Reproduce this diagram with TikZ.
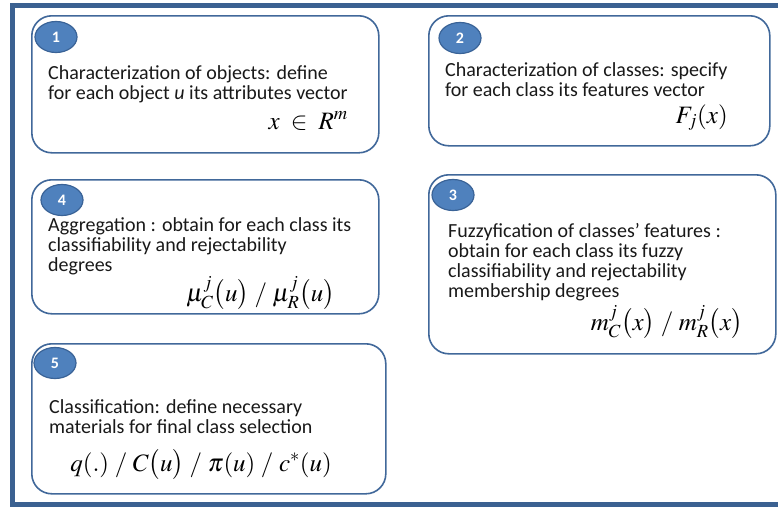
\documentclass[tikz,border=0pt]{standalone}
\usepackage{mathptmx}
\usepackage{fontspec}
\setmainfont{Carlito}
\usepackage{xcolor}
\usepackage{tikz}
\usetikzlibrary{positioning,calc,shapes.geometric}
\definecolor{fcframe}{HTML}{3B6191}
\definecolor{fcedge}{HTML}{41689A}
\definecolor{fcbadge}{HTML}{4F81BD}
\definecolor{fcbadgeedge}{HTML}{3A6397}
\tikzset{
  stepbox/.style={draw=fcedge, line width=1.6pt, rounded corners=20pt, fill=white,
    anchor=north west, inner sep=0pt},
  badge/.style={ellipse, draw=fcbadgeedge, line width=1.2pt, fill=fcbadge,
    minimum width=42pt, minimum height=31pt, inner sep=0pt, text=white,
    font=\fontsize{16}{18}\selectfont\bfseries},
  desc/.style={anchor=base west, align=left, inner sep=0pt, text=black!90,
    font=\fontsize{20}{20}\selectfont},
  formula/.style={anchor=base east, inner sep=0pt, font=\fontsize{25}{28}\selectfont}
}
\begin{document}
\begin{tikzpicture}[x=1pt,y=-1pt]
  \useasboundingbox (0,0) rectangle (778,506);
  % outer frame (open on the right)
  \draw[fcframe, line width=5pt] (778,5.5) -- (12,5.5) -- (12,504) -- (778,504);
  % the five steps
  \node[stepbox, minimum width=347pt, minimum height=137pt] (s1) at (31,15) {};
  \node[stepbox, minimum width=341pt, minimum height=130pt] (s2) at (428,15) {};
  \node[stepbox, minimum width=347pt, minimum height=134pt] (s4) at (31,179) {};
  \node[stepbox, minimum width=347pt, minimum height=179pt] (s3) at (428,174) {};
  \node[stepbox, minimum width=354pt, minimum height=150pt] (s5) at (31,343) {};
  \node[badge] (n1) at (56,37) {1};
  \node[badge] (n2) at (460,38) {2};
  \node[badge] (n4) at (62,200) {4};
  \node[badge] (n3) at (453,195) {3};
  \node[badge] (n5) at (55,363) {5};
  % texts (anchored at the baseline of the last line)
  \node[desc] (t1) at (48,99) {Characterization of objects: define\\for each object \emph{u} its attributes vector};
  \node[formula] (f1) at (348,129) {$x\;\in\;R^{m}$};
  \node[desc] (t2) at (445,96) {Characterization of classes: specify\\for each class its features vector};
  \node[formula] (f2) at (728,123) {$F_{j}(x)$};
  \node[desc] (t4) at (48,271) {Aggregation : obtain for each class its\\classifiability and rejectability\\degrees};
  \node[formula] (f4) at (335,301) {$\mu_{C}^{j}\big(u\big)\;/\;\mu_{R}^{j}\big(u\big)$};
  \node[desc] (t3) at (448,297) {Fuzzyfication of classes’ features :\\obtain for each class its fuzzy\\classifiability and rejectability\\membership degrees};
  \node[formula] (f3) at (743,330) {$m_{C}^{j}\big(x\big)\;/\;m_{R}^{j}\big(x\big)$};
  \node[desc] (t5) at (49,433) {Classification: define necessary\\materials for final class selection};
  \node[formula] (f5) at (332,471) {$q(.)\;/\;C\big(u\big)\;/\;\pi(u)\;/\;c^{*}(u)$};
\end{tikzpicture}
\end{document}
